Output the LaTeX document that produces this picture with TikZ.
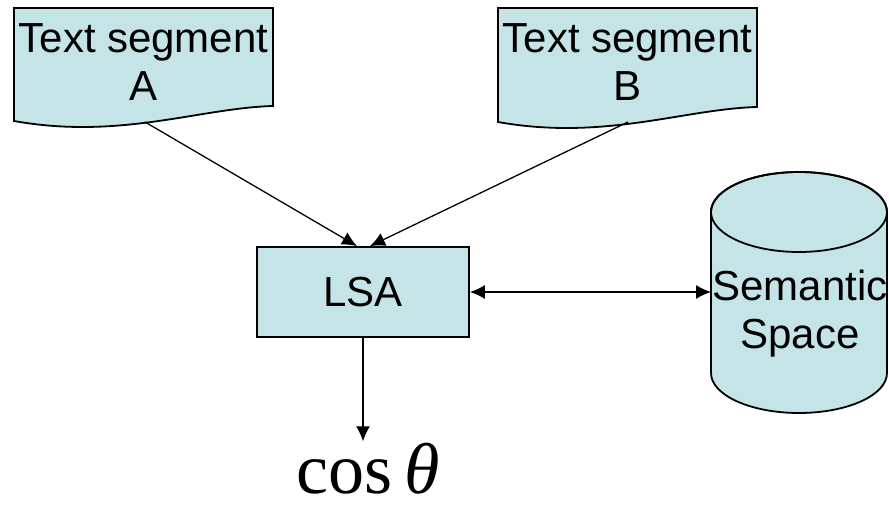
\documentclass[tikz,border=0pt]{standalone}
\usepackage{fontspec}
\setmainfont{Liberation Sans}
\newfontfamily\serifcos{Liberation Serif}
\usetikzlibrary{arrows.meta}
\definecolor{lsablue}{RGB}{197,228,231}

\begin{document}
\begin{tikzpicture}[x=0.5pt,y=-0.5pt,>={Latex[length=7.5pt,width=7pt]},
  font=\fontsize{21}{24}\selectfont]
\useasboundingbox (0,0) rectangle (889,507);

% text segment A
\filldraw[fill=lsablue,line width=0.9pt] (14,8) -- (273,8) -- (273,106)
  .. controls (200,108) and (120,140) .. (14,121) -- cycle;
\node[align=center] (segA) at (143.5,62) {Text segment\\A};
\coordinate (segA_out) at (145,122);

% text segment B
\filldraw[fill=lsablue,line width=0.9pt] (498,8) -- (757,8) -- (757,107)
  .. controls (684,109) and (604,141) .. (498,122) -- cycle;
\node[align=center] (segB) at (627.5,62) {Text segment\\B};
\coordinate (segB_out) at (628,122);

% LSA
\node[rectangle,draw,fill=lsablue,line width=0.9pt,minimum width=106pt,minimum height=45pt] (lsa) at (363,292) {LSA};

% semantic space (cylinder)
\filldraw[fill=lsablue,line width=0.9pt] (711,212) -- (711,373)
  arc[start angle=180,end angle=360,x radius=44pt,y radius=20pt] -- (887,212)
  arc[start angle=0,end angle=180,x radius=44pt,y radius=20pt] -- cycle;
\draw[line width=0.9pt] (799,212) ellipse[x radius=44pt,y radius=20pt];
\node[align=center,inner sep=0pt] (space) at (800,314) {Semantic\\Space};
\coordinate (space_in) at (711,292);

\node[font=\serifcos\fontsize{36}{40}\selectfont,anchor=base,inner sep=1pt] (cos) at (368,494) {cos\,{\itshape θ}};

\draw[->,line width=0.65pt] (segA_out) -- ([xshift=-3pt]lsa.north);
\draw[->,line width=0.65pt] (segB_out) -- ([xshift=3.5pt]lsa.north);
\draw[<->,line width=0.65pt] (lsa.east) -- (space_in);
\draw[->,line width=0.65pt] (lsa.south) -- (lsa.south |- cos.north);

\end{tikzpicture}
\end{document}
